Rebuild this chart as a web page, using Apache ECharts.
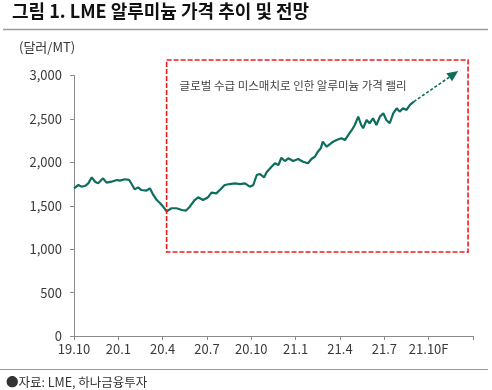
<!DOCTYPE html>
<html><head><meta charset="utf-8">
<script src="https://cdn.jsdelivr.net/npm/echarts@6/dist/echarts.min.js"></script>
<style>html,body{margin:0;padding:0;background:#fff}#c{width:492px;height:390px}</style>
</head><body><div id="c"></div>
<script>
const dates = ['2019-10-01','2019-10-10','2019-10-16','2019-10-23','2019-10-30','2019-11-07','2019-11-14','2019-11-20','2019-11-30','2019-12-07','2019-12-17','2019-12-28',
'2020-01-04','2020-01-14','2020-01-23','2020-01-28','2020-02-04','2020-02-11','2020-02-18','2020-02-28','2020-03-05','2020-03-12','2020-03-19','2020-03-26','2020-04-02','2020-04-09',
'2020-04-19','2020-04-29','2020-05-10','2020-05-18','2020-05-26','2020-06-06','2020-06-13','2020-06-23','2020-07-03','2020-07-10','2020-07-20','2020-07-27','2020-08-07','2020-08-17','2020-08-28',
'2020-09-08','2020-09-18','2020-09-28','2020-10-05','2020-10-12','2020-10-18','2020-10-27','2020-11-02','2020-11-12','2020-11-19','2020-11-26','2020-12-02','2020-12-09','2020-12-16','2020-12-26',
'2021-01-06','2021-01-16','2021-01-26','2021-02-03','2021-02-10','2021-02-16','2021-02-22','2021-02-26','2021-03-04','2021-03-10','2021-03-17','2021-03-24','2021-03-27','2021-04-04','2021-04-11',
'2021-04-18','2021-04-25','2021-05-01','2021-05-08','2021-05-14','2021-05-18','2021-05-25','2021-06-01','2021-06-08','2021-06-15','2021-06-22','2021-06-29','2021-07-05','2021-07-12','2021-07-19',
'2021-07-26','2021-08-02','2021-08-09','2021-08-16','2021-08-23','2021-08-31'];
const prices = [1701,1739,1720,1727,1758,1827,1777,1758,1816,1766,1777,1797,
1789,1805,1797,1750,1689,1712,1681,1674,1701,1624,1566,1528,1489,1435,
1471,1471,1451,1443,1489,1566,1597,1566,1597,1651,1643,1681,1739,1750,1758,
1750,1758,1720,1739,1854,1866,1828,1885,1950,1989,1969,2053,2015,2046,2015,
2038,2007,1989,2038,2065,2123,2161,2238,2180,2207,2238,2257,2238,2277,2257,
2315,2373,2430,2526,2430,2392,2488,2450,2507,2430,2526,2565,2488,2450,2565,
2622,2584,2622,2603,2661,2699];
const tickLabels = ['19.10','20.1','20.4','20.7','20.10','21.1','21.4','21.7','21.10F',''];
const forecastFrom = ['2021-08-31', 2699];
const forecastTo = ['2021-12-01', 3052];
const boxDates = ['2020-04-09', '2021-12-21'];
const boxValues = [967, 3178];
const noteText = '글로벌 수급 미스매치로 인한 알루미늄 가격 랠리';

function toM(s) {
  const p = s.split('-').map(Number);
  return (p[0] - 2019) * 12 + (p[1] - 10) + (p[2] - 1) / 30;
}
const FONT = '"Noto Sans CJK KR", "Noto Sans", sans-serif';
const TEAL = '#0d6e5e';
const chart = echarts.init(document.getElementById('c'));
chart.setOption({
  animation: false,
  backgroundColor: '#fff',
  grid: { left: 74, right: 19, top: 75.5, bottom: 54, containLabel: false },
  xAxis: {
    type: 'value', min: 0, max: 27, interval: 3,
    axisLine: { lineStyle: { color: '#8a8a8a', width: 1 } },
    axisTick: { length: 4, lineStyle: { color: '#8a8a8a' } },
    splitLine: { show: false },
    axisLabel: { margin: 7, color: '#3a3a3a', fontSize: 13, fontFamily: FONT,
      formatter: v => tickLabels[Math.round(v / 3)] || '' }
  },
  yAxis: {
    type: 'value', min: 0, max: 3000, interval: 500,
    axisLine: { show: true, lineStyle: { color: '#8a8a8a', width: 1 } },
    axisTick: { show: true, length: 4, lineStyle: { color: '#8a8a8a' } },
    splitLine: { show: false },
    axisLabel: { margin: 12, color: '#3a3a3a', fontSize: 13, fontFamily: FONT,
      formatter: v => String(v).replace(/\B(?=(\d{3})+(?!\d))/g, ',') }
  },
  series: [{
    type: 'line', showSymbol: false, clip: false,
    data: dates.map((d, i) => [toM(d), prices[i]]),
    lineStyle: { color: TEAL, width: 2.2 }, itemStyle: { color: TEAL }
  }],
  graphic: [
    { id: 'title', type: 'text', left: 12, top: 2, style: { text: '그림 1. LME 알루미늄 가격 추이 및 전망', font: 'bold 18px ' + FONT, fill: '#111' } },
    { id: 'tline', type: 'line', shape: { x1: 3, y1: 29.5, x2: 488, y2: 29.5 }, style: { stroke: '#9a9a9a', lineWidth: 1.5 } },
    { id: 'unit', type: 'text', left: 19, top: 41, style: { text: '(달러/MT)', font: '13px ' + FONT, fill: '#333' } },
    { id: 'bline', type: 'line', shape: { x1: 0, y1: 369.5, x2: 488, y2: 369.5 }, style: { stroke: '#9a9a9a', lineWidth: 1 } },
    { id: 'src', type: 'text', left: 6, top: 376, style: { text: '●자료: LME, 하나금융투자', font: '12.5px ' + FONT, fill: '#333' } }
  ]
});

const px = (m, v) => chart.convertToPixel({ gridIndex: 0 }, [m, v]);
const b1 = px(toM(boxDates[0]), boxValues[1]);
const b2 = px(toM(boxDates[1]), boxValues[0]);
const a1 = px(toM(forecastFrom[0]), forecastFrom[1]);
const a2 = px(toM(forecastTo[0]), forecastTo[1]);
const ang = Math.atan2(a2[1] - a1[1], a2[0] - a1[0]);
const hl = 11, hw = 5;
const back = [a2[0] - hl * Math.cos(ang), a2[1] - hl * Math.sin(ang)];
const head = [
  a2,
  [back[0] + hw * Math.sin(ang), back[1] - hw * Math.cos(ang)],
  [back[0] - hw * Math.sin(ang), back[1] + hw * Math.cos(ang)]
];
chart.setOption({
  graphic: [
    { id: 'box', type: 'rect', shape: { x: b1[0], y: b1[1], width: b2[0] - b1[0], height: b2[1] - b1[1] },
      style: { fill: 'none', stroke: '#ee1c1c', lineWidth: 1.6, lineDash: [5, 2] }, z: 10 },
    { id: 'note', type: 'text', x: b1[0] + 13, y: b1[1] + 26, style: { text: noteText, font: '11.5px ' + FONT, fill: '#444', textVerticalAlign: 'middle' }, z: 10 },
    { id: 'arrowLine', type: 'line', shape: { x1: a1[0], y1: a1[1], x2: back[0], y2: back[1] },
      style: { stroke: TEAL, lineWidth: 1.6, lineDash: [3, 2] }, z: 10 },
    { id: 'arrowHead', type: 'polygon', shape: { points: head }, style: { fill: TEAL }, z: 10 }
  ]
});
</script></body></html>
